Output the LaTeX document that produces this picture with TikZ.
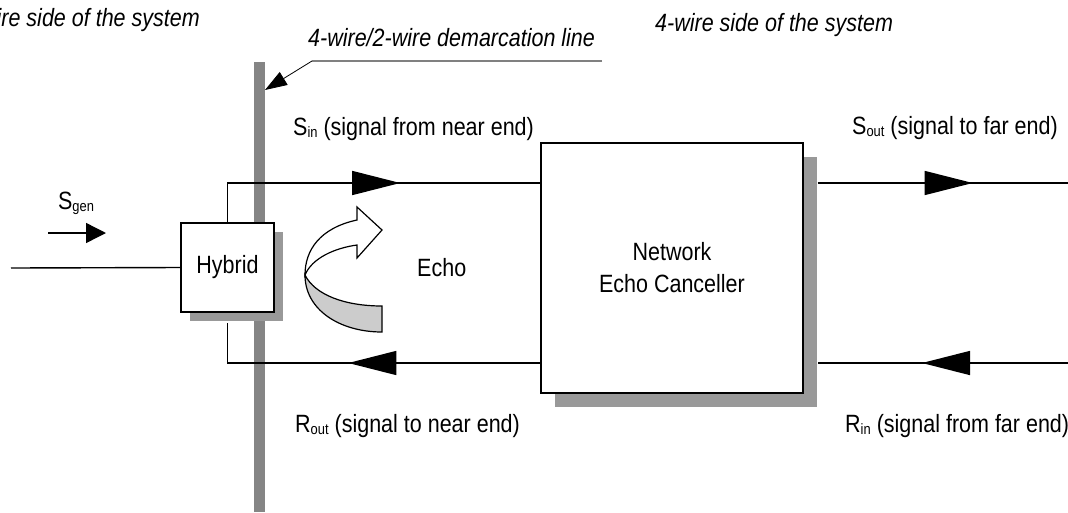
\documentclass[tikz,border=0pt]{standalone}
\usepackage{fontspec}
\setmainfont[FakeStretch=0.86]{Liberation Sans}
\usetikzlibrary{arrows.meta,decorations.markings,shadows}

\definecolor{bargray}{HTML}{858585}
\definecolor{shadegray}{HTML}{999999}
\definecolor{curlgray}{HTML}{CCCCCC}
\definecolor{leadgray}{HTML}{808080}

% small lowered index after a signal letter
\newcommand\sigidx[1]{\raisebox{-0.15ex}{\fontsize{15}{15}\selectfont #1}}

\begin{document}
\begin{tikzpicture}[x=1pt,y=-1pt,
  every node/.style={inner sep=0pt, font=\fontsize{25}{32}\selectfont},
  block/.style={draw, fill=white, line width=1.4pt, align=center,
    drop shadow={shadow xshift=#1, shadow yshift=-#1, fill=shadegray, opacity=1}},
  wire/.style={line width=1.4pt},
  midarrow/.style={postaction={decorate}, decoration={markings,
    mark=at position #1 with {\arrow{Triangle[length=48pt,width=24pt]}}}},
  caption/.style={font=\fontsize{25}{32}\selectfont\itshape}]

\useasboundingbox (0,0) rectangle (1068,512);

% demarcation bar
\fill[bargray] (254,62) rectangle (265,512);

% blocks
\node[block=9pt, minimum width=93pt, minimum height=89pt] (hyb) at (227.5,267.5) {Hybrid};
\node[block=14pt, minimum width=262pt, minimum height=250pt] (nec) at (672,268) {Network\\Echo Canceller};

% named ends of the outer wires
\coordinate (inL) at (11,268);
\coordinate (soutR) at (1068,183);
\coordinate (rinR) at (1068,363);

% wires
\draw[wire] (inL) -- (hyb.west);
\draw[wire, midarrow=212pt] (hyb.north) |- ([yshift=85pt]nec.west);
\draw[wire, midarrow=192pt] ([yshift=-95pt]nec.west) -| ([yshift=-10pt]hyb.south);
\draw[wire, midarrow=155pt] ([xshift=14pt,yshift=85pt]nec.east) -- (soutR);
\draw[wire, midarrow=146pt] (rinR) -- ([xshift=14pt,yshift=-95pt]nec.east);

% S_gen direction arrow
\coordinate (sgA) at (48,233);
\coordinate (sgB) at (106,233);
\draw[wire, -{Triangle[length=20pt,width=20pt]}] (sgA) -- (sgB);
\node (sgen) at (76,203) {S\sigidx{gen}};

% echo curl
\filldraw[fill=curlgray, line width=1.2pt]
  (305,275) .. controls (315,295) and (345,306) .. (382,306) -- (382,332)
  .. controls (340,332) and (305,310) .. (305,275) -- cycle;
\filldraw[fill=white, line width=1.2pt]
  (305,275) .. controls (305,250) and (320,228) .. (357,220) -- (357,207)
  -- (382,230) -- (357,258) -- (357,245)
  .. controls (335,248) and (312,258) .. (305,275) -- cycle;
\node[anchor=west] (echo) at (417,268) {Echo};

% signal labels
\node[anchor=west] (sin)  at (293,129) {S\sigidx{in} (signal from near end)};
\node[anchor=west] (sout) at (852,128) {S\sigidx{out} (signal to far end)};
\node[anchor=west] (rout) at (295,426) {R\sigidx{out} (signal to near end)};
\node[anchor=west] (rin)  at (845,426) {R\sigidx{in} (signal from far end)};

% side captions and demarcation leader
\node[caption, anchor=east] (twoside) at (200,20) {2-wire side of the system};
\node[caption, anchor=west] (fourside) at (655,25) {4-wire side of the system};
\node[caption, anchor=west] (demarc) at (308,38) {4-wire/2-wire demarcation line};
\coordinate (ldA) at (602,61);
\coordinate (ldB) at (312,61);
\coordinate (ldTip) at (265,90);
\draw[leadgray, line width=1.2pt] (ldA) -- (ldB);
\draw[line width=0.8pt, -{Triangle[length=22pt,width=15pt]}] (ldB) -- (ldTip);
\end{tikzpicture}
\end{document}
